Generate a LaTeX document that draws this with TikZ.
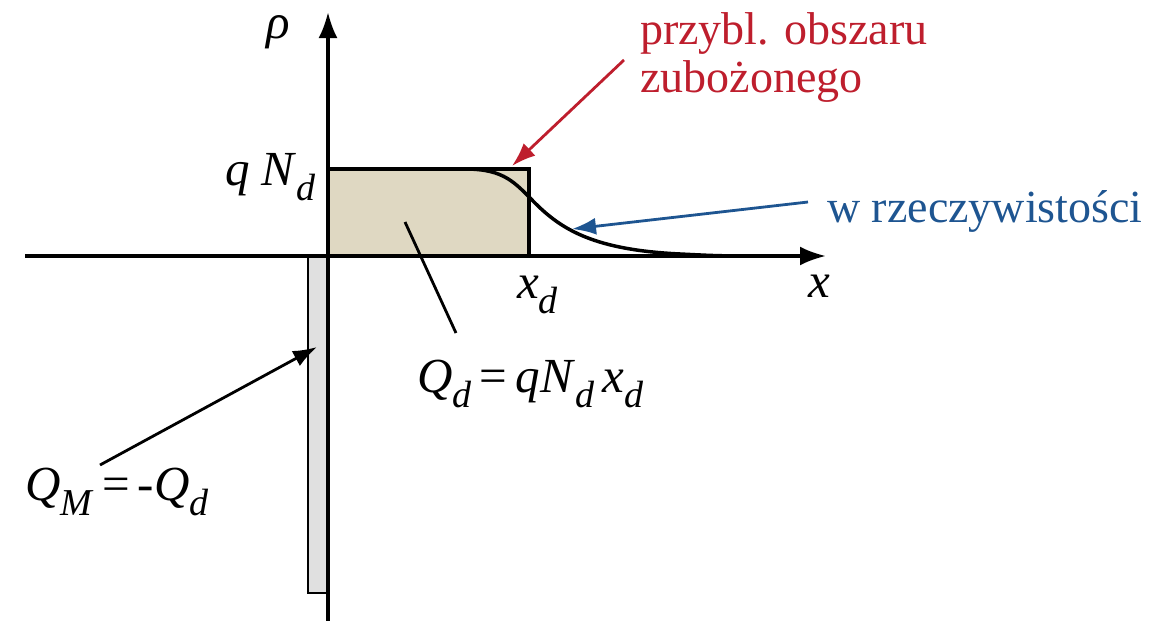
\documentclass[tikz,border=0pt]{standalone}
\usepackage{fontspec}
\usepackage{graphicx}
\setmainfont{Liberation Serif}
\usetikzlibrary{arrows.meta}
\definecolor{redtxt}{RGB}{190,30,45}
\definecolor{bluetxt}{RGB}{30,85,145}
\definecolor{beige}{RGB}{223,216,194}
\definecolor{barfill}{RGB}{224,224,224}
\newcommand{\sbs}[1]{\raisebox{-15pt}{\fontsize{38}{38}\selectfont\textit{#1}}}
\tikzset{
  lbl/.style={inner sep=0pt, anchor=base west, font=\fontsize{46}{52}\selectfont},
  mlbl/.style={inner sep=0pt, anchor=base west, font=\fontsize{49}{52}\selectfont},
  axis/.style={line width=3.5pt, -{Latex[length=26pt,width=19pt]}},
  pointer/.style={line width=2.8pt, -{Latex[length=24pt,width=17pt]}},
}
\begin{document}
\begin{tikzpicture}[x=1pt,y=1pt]
\useasboundingbox (0,0) rectangle (1171,-621);
% shapes
\draw[line width=2.8pt, fill=barfill] (308,-256) rectangle (328,-593);
\draw[line width=3.5pt, fill=beige] (328,-169) rectangle (529,-256);
% axes
\coordinate (xl) at (25,-256);
\coordinate (xr) at (826,-256);
\coordinate (yb) at (328,-621);
\coordinate (yt) at (328,-12);
\draw[axis] (xl) -- (xr);
\draw[axis] (yb) -- (yt);
% real profile
\draw[line width=3.5pt] (465,-169) .. controls (505,-169) and (515,-183) .. (535,-203)
   .. controls (562,-230) and (595,-250) .. (680,-254) .. controls (720,-256) .. (775,-256);
% labels
\node[mlbl] (rho) at (266,-38) {\textit{ρ}};
\node[mlbl, anchor=base east] (qnd) at (316,-185) {\textit{q N}\sbs{d}};
\node[mlbl] (xd) at (517,-298) {\textit{x}\sbs{d}};
\node[mlbl] (xlab) at (808,-297) {\textit{x}};
\node[mlbl] (Qd) at (417,-392) {\textit{Q}\sbs{d}\,=\,\textit{qN}\sbs{d}\,\textit{x}\sbs{d}};
\node[mlbl] (QM) at (25,-500) {\textit{Q}\sbs{M}\,=\,-\textit{Q}\sbs{d}};
\node[lbl, text=redtxt] (redA) at (640,-45) {przybl. obszaru};
\node[lbl, text=redtxt] (redB) at (640,-92) {zubożonego};
\node[lbl, text=bluetxt] (blue) at (827,-222) {w rzeczywistości};
% pointers
\coordinate (redS) at (624,-60);
\coordinate (redE) at (512,-166);
\coordinate (blueS) at (808,-202);
\coordinate (blueE) at (572,-229);
\coordinate (qmS) at (100,-465);
\coordinate (qmE) at (317,-347);
\coordinate (qdS) at (405,-222);
\coordinate (qdE) at (456,-333);
\draw[pointer, draw=redtxt, fill=redtxt] (redS) -- (redE);
\draw[pointer, draw=bluetxt, fill=bluetxt] (blueS) -- (blueE);
\draw[pointer] (qmS) -- (qmE);
\draw[line width=2.8pt] (qdS) -- (qdE);
\end{tikzpicture}
\end{document}
